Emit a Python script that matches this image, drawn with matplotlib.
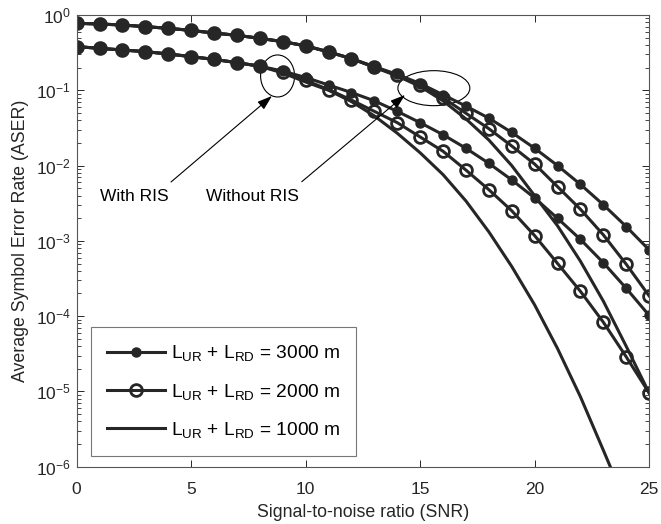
import numpy as np
import matplotlib
matplotlib.use('Agg')
import matplotlib.pyplot as plt
from matplotlib.patches import Ellipse

plt.rcParams['font.family'] = ['Liberation Sans', 'DejaVu Sans']
plt.rcParams['mathtext.fontset'] = 'custom'
plt.rcParams['mathtext.rm'] = 'Liberation Sans'
plt.rcParams['mathtext.default'] = 'regular'

# SNR grid (dB)
snr = list(range(0, 26))
snr_short = list(range(0, 25))

# log10(ASER)
# Without RIS
wo_3000 = [-0.11, -0.12, -0.133, -0.155, -0.177, -0.205, -0.24, -0.27, -0.31, -0.354,
           -0.41, -0.49, -0.58, -0.685, -0.79, -0.91, -1.06, -1.21, -1.37, -1.56,
           -1.77, -2.0, -2.25, -2.52, -2.81, -3.12]
wo_2000 = [-0.11, -0.12, -0.133, -0.155, -0.177, -0.205, -0.24, -0.27, -0.31, -0.354,
           -0.41, -0.49, -0.58, -0.69, -0.80, -0.93, -1.10, -1.305, -1.51, -1.74,
           -1.98, -2.28, -2.58, -2.92, -3.31, -3.73]
wo_1000 = [-0.11, -0.12, -0.133, -0.155, -0.177, -0.205, -0.24, -0.27, -0.31, -0.354,
           -0.41, -0.49, -0.58, -0.695, -0.81, -0.95, -1.14, -1.38, -1.66, -2.0,
           -2.40, -2.80, -3.27, -3.80, -4.40, -5.02]
# With RIS
w_3000 = [-0.42, -0.443, -0.465, -0.487, -0.518, -0.553, -0.59, -0.633, -0.68, -0.745,
          -0.83, -0.93, -1.03, -1.14, -1.28, -1.43, -1.59, -1.77, -1.97, -2.19,
          -2.43, -2.70, -2.98, -3.29, -3.63, -3.99]
w_2000 = [-0.42, -0.443, -0.465, -0.487, -0.518, -0.553, -0.59, -0.633, -0.68, -0.76,
          -0.87, -0.99, -1.13, -1.28, -1.43, -1.62, -1.81, -2.06, -2.32, -2.60,
          -2.93, -3.30, -3.67, -4.08, -4.54, -5.02]
w_1000 = [-0.42, -0.443, -0.465, -0.487, -0.518, -0.553, -0.59, -0.633, -0.68, -0.77,
          -0.89, -1.0, -1.15, -1.34, -1.57, -1.83, -2.12, -2.47, -2.88, -3.34,
          -3.85, -4.43, -5.07, -5.78, -6.5]

labels = [r'$L_{UR}$ + $L_{RD}$ = 3000 m',
          r'$L_{UR}$ + $L_{RD}$ = 2000 m',
          r'$L_{UR}$ + $L_{RD}$ = 1000 m']

c = '#262626'
lw = 2.2
filled = dict(marker='o', markersize=6.5, markerfacecolor=c, markeredgecolor=c)
hollow = dict(marker='o', markersize=8.5, markerfacecolor='none', markeredgecolor=c, markeredgewidth=2)

fig = plt.figure(figsize=(6.61, 5.24), dpi=100)
ax = fig.add_axes([0.116, 0.1093, 0.866, 0.8621])

ax.semilogy(snr, 10 ** np.array(w_3000), color=c, lw=lw, **filled)
ax.semilogy(snr, 10 ** np.array(w_2000), color=c, lw=lw, **hollow)
ax.semilogy(snr_short, 10 ** np.array(w_1000), color=c, lw=lw)
h1, = ax.semilogy(snr, 10 ** np.array(wo_3000), color=c, lw=lw, label=labels[0], **filled)
h2, = ax.semilogy(snr, 10 ** np.array(wo_2000), color=c, lw=lw, label=labels[1], **hollow)
h3, = ax.semilogy(snr, 10 ** np.array(wo_1000), color=c, lw=lw, label=labels[2])

ax.set_xlim(0, 25)
ax.set_ylim(1e-6, 1)
ax.set_xticks([0, 5, 10, 15, 20, 25])
ax.set_yticks([10.0 ** k for k in range(-6, 1)])
ax.tick_params(which='both', direction='in', top=True, right=True, colors=c, labelsize=12.5)
ax.tick_params(which='major', length=5, width=0.7)
ax.tick_params(which='minor', length=2.8, width=0.6)
ax.tick_params(axis='x', pad=11)
ax.tick_params(axis='y', pad=4)
for s in ax.spines.values():
    s.set_color('#555555')
    s.set_linewidth(0.8)

ax.set_xlabel('Signal-to-noise ratio (SNR)', fontsize=12.8, color=c, labelpad=5)
ax.set_ylabel('Average Symbol Error Rate (ASER)', fontsize=12.8, color=c, labelpad=5)

# annotations
ax.add_patch(Ellipse((0.351, 0.865), 0.0594, 0.093, transform=ax.transAxes,
                     fill=False, color='k', lw=0.8))
ax.add_patch(Ellipse((0.624, 0.838), 0.1257, 0.0775, transform=ax.transAxes,
                     fill=False, color='k', lw=0.8))
arrow = dict(arrowstyle='-|>,head_length=0.9,head_width=0.3', color='k', lw=0.8,
             shrinkA=0, shrinkB=0)
ax.annotate('', xy=(8.53, 0.084), xytext=(4.12, 0.00605), arrowprops=arrow)
ax.annotate('', xy=(14.34, 0.0867), xytext=(9.83, 0.0061), arrowprops=arrow)
ax.text(2.5, 0.0039, 'With RIS', ha='center', va='center', fontsize=12.5)
ax.text(7.66, 0.0039, 'Without RIS', ha='center', va='center', fontsize=12.5)

leg = ax.legend(handles=[h1, h2, h3], loc='lower left', bbox_to_anchor=(0.025, 0.0237),
                borderaxespad=0, fontsize=13.8, handlelength=3.0, handletextpad=0.3,
                labelspacing=0.95, borderpad=0.85, fancybox=False, framealpha=1)
leg.get_frame().set_edgecolor('#777777')
leg.get_frame().set_linewidth(0.8)

fig.savefig('out.png', dpi=100)
